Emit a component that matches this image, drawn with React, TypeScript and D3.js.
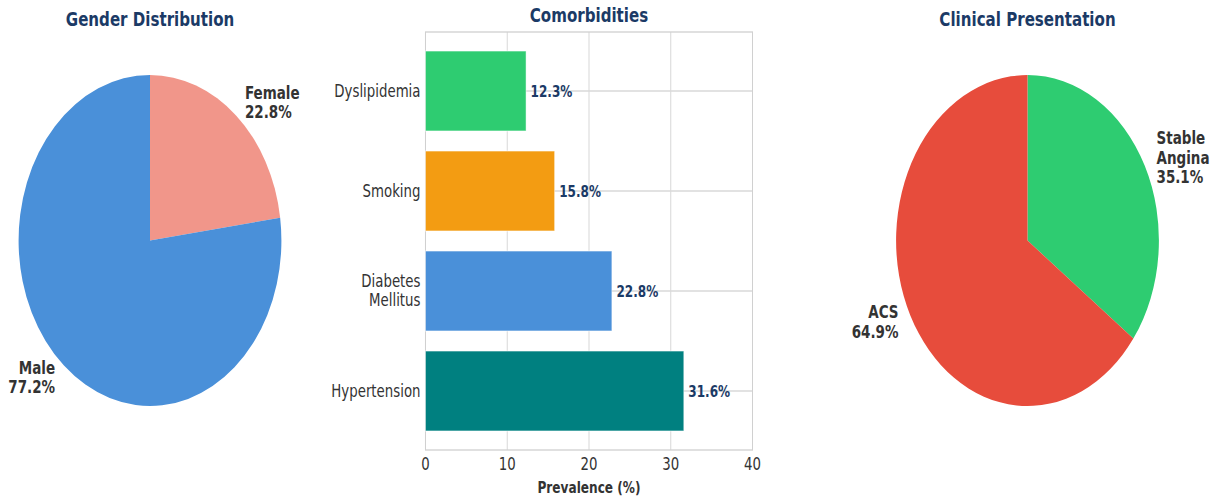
import React from "react";
import * as d3 from "d3";

// Gender split
const genderLabels = ["Female", "Male"];
const genderValues = [22.8, 77.2];
const genderColors = ["#f1968a", "#4a90d9"];

// Comorbidity prevalence (%)
const comorbidities = ["Dyslipidemia", "Smoking", "Diabetes\nMellitus", "Hypertension"];
const comorbidityValues = [12.3, 15.8, 22.8, 31.6];
const comorbidityColors = ["#2ecc71", "#f39c12", "#4a90d9", "#008080"];
const xTicks = [0, 10, 20, 30, 40];

// Clinical presentation split
const presentationLabels = ["Stable\nAngina", "ACS"];
const presentationValues = [35.1, 64.9];
const presentationColors = ["#2ecc71", "#e74c3c"];

const W = 1223;
const H = 497;
const SX = 0.794; // horizontal squeeze of the figure
const VW = W / SX;
const vx = (px: number) => px / SX;

const FONT = "DejaVu Sans, Verdana, sans-serif";
const TITLE_COLOR = "#1b3a66";
const TEXT_COLOR = "#333333";
const TITLE_SIZE = 19;

type PieProps = {
  cx: number;
  cy: number;
  r: number;
  labels: string[];
  values: number[];
  colors: string[];
  title: string;
};

function Pie({ cx, cy, r, labels, values, colors, title }: PieProps) {
  const pie = d3.pie<number>().sort(null).startAngle(0).endAngle(2 * Math.PI);
  const arcs = pie(values);
  const arc = d3.arc<d3.PieArcDatum<number>>().innerRadius(0).outerRadius(r);
  const lineH = 19.5;
  return (
    <g>
      <text
        x={cx}
        y={26}
        textAnchor="middle"
        fontFamily={FONT}
        fontWeight="bold"
        fontSize={TITLE_SIZE}
        fill={TITLE_COLOR}
      >
        {title}
      </text>
      <g transform={`translate(${cx},${cy})`}>
        {arcs.map((a, i) => (
          <path key={i} d={arc(a) || ""} fill={colors[i]} />
        ))}
        {arcs.map((a, i) => {
          const mid = (a.startAngle + a.endAngle) / 2;
          const lx = Math.sin(mid) * r * 1.1;
          const ly = -Math.cos(mid) * r * 1.1;
          const lines = [...labels[i].split("\n"), `${values[i].toFixed(1)}%`];
          const y0 = ly - ((lines.length - 1) * lineH) / 2;
          return (
            <text
              key={"l" + i}
              x={lx}
              y={y0}
              textAnchor={lx > 0 ? "start" : "end"}
              dominantBaseline="central"
              fontFamily={FONT}
              fontWeight="bold"
              fontSize={17}
              fill={TEXT_COLOR}
            >
              {lines.map((t, j) => (
                <tspan key={j} x={lx} dy={j === 0 ? 0 : lineH}>
                  {t}
                </tspan>
              ))}
            </text>
          );
        })}
      </g>
    </g>
  );
}

function Bars() {
  const left = vx(425.5);
  const right = vx(752.5);
  const top = 32;
  const bottom = 450;
  const x = d3.scaleLinear().domain([0, 40]).range([left, right]);
  // categories listed top to bottom
  const y = d3
    .scaleLinear()
    .domain([-0.59, comorbidities.length - 1 + 0.59])
    .range([top, bottom]);
  const barH = y(0.4) - y(-0.4);
  const grid = "#d9d9d9";
  return (
    <g>
      <text
        x={(left + right) / 2}
        y={22}
        textAnchor="middle"
        fontFamily={FONT}
        fontWeight="bold"
        fontSize={TITLE_SIZE}
        fill={TITLE_COLOR}
      >
        Comorbidities
      </text>
      {xTicks.map((t) => (
        <line key={"gx" + t} x1={x(t)} x2={x(t)} y1={top} y2={bottom} stroke={grid} strokeWidth={1.3} />
      ))}
      {comorbidities.map((_, i) => (
        <line key={"gy" + i} x1={left} x2={right} y1={y(i)} y2={y(i)} stroke={grid} strokeWidth={1.3} />
      ))}
      <rect x={left} y={top} width={right - left} height={bottom - top} fill="none" stroke="#d0d0d0" strokeWidth={1.3} />
      {comorbidities.map((c, i) => (
        <rect
          key={"b" + c}
          x={x(0)}
          y={y(i) - barH / 2}
          width={x(comorbidityValues[i]) - x(0)}
          height={barH}
          fill={comorbidityColors[i]}
          stroke="#ffffff"
          strokeOpacity={0.6}
          strokeWidth={1}
        />
      ))}
      {comorbidities.map((c, i) => (
        <text
          key={"v" + c}
          x={x(comorbidityValues[i]) + vx(4.5)}
          y={y(i)}
          dominantBaseline="central"
          fontFamily={FONT}
          fontWeight="bold"
          fontSize={15.2}
          fill={TITLE_COLOR}
        >
          {comorbidityValues[i].toFixed(1)}%
        </text>
      ))}
      {comorbidities.map((c, i) => {
        const lines = c.split("\n");
        const lh = 19.5;
        const y0 = y(i) - ((lines.length - 1) * lh) / 2;
        return (
          <text
            key={"c" + c}
            x={left - vx(5)}
            y={y0}
            textAnchor="end"
            dominantBaseline="central"
            fontFamily={FONT}
            fontSize={16.8}
            fill={TEXT_COLOR}
          >
            {lines.map((t, j) => (
              <tspan key={j} x={left - vx(5)} dy={j === 0 ? 0 : lh}>
                {t}
              </tspan>
            ))}
          </text>
        );
      })}
      {xTicks.map((t) => (
        <text
          key={"xt" + t}
          x={x(t)}
          y={464}
          textAnchor="middle"
          dominantBaseline="central"
          fontFamily={FONT}
          fontSize={16.8}
          fill={TEXT_COLOR}
        >
          {t}
        </text>
      ))}
      <text
        x={(left + right) / 2}
        y={487}
        textAnchor="middle"
        dominantBaseline="central"
        fontFamily={FONT}
        fontWeight="bold"
        fontSize={15.3}
        fill={TEXT_COLOR}
      >
        Prevalence (%)
      </text>
    </g>
  );
}

export default function App() {
  return (
    <svg
      width={W}
      height={H}
      viewBox={`0 0 ${VW} ${H}`}
      preserveAspectRatio="none"
      style={{ position: "absolute", left: 0, top: 0, background: "#ffffff" }}
    >
      <rect x={0} y={0} width={VW} height={H} fill="#ffffff" />
      <Pie
        cx={vx(150)}
        cy={240.5}
        r={165.5}
        labels={genderLabels}
        values={genderValues}
        colors={genderColors}
        title="Gender Distribution"
      />
      <Bars />
      <Pie
        cx={vx(1027.5)}
        cy={240.5}
        r={165.5}
        labels={presentationLabels}
        values={presentationValues}
        colors={presentationColors}
        title="Clinical Presentation"
      />
    </svg>
  );
}
